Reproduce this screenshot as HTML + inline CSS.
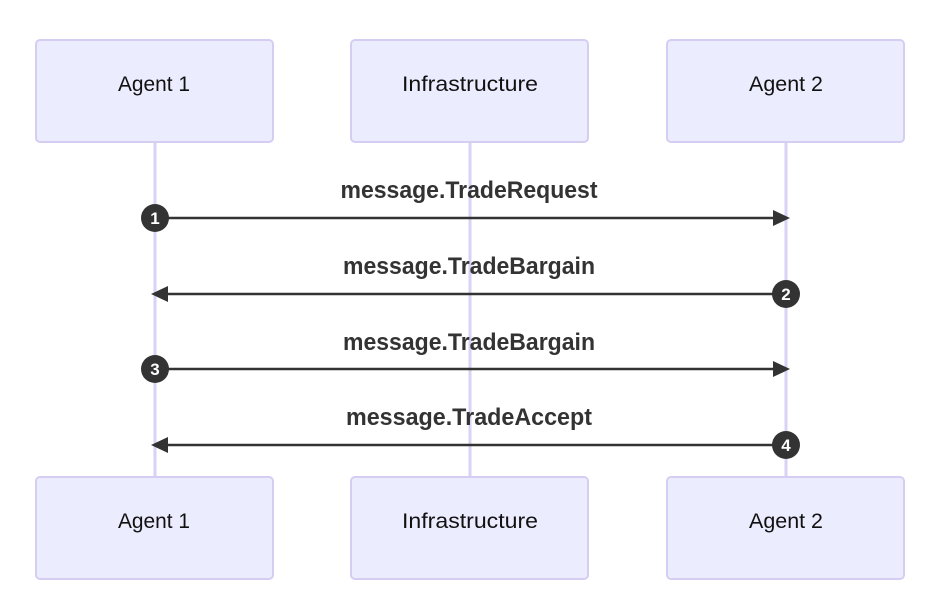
<!DOCTYPE html>
<html><head><meta charset="utf-8"><style>
html,body{margin:0;padding:0;background:#fff;}
svg{display:block;}
text{font-family:"Liberation Sans",sans-serif;}
</style></head><body>
<svg width="939" height="614" viewBox="0 0 939 614" xmlns="http://www.w3.org/2000/svg">
<g stroke="#d9d2f5" stroke-width="3">
<line x1="155" y1="142" x2="155" y2="477"/>
<line x1="470" y1="142" x2="470" y2="477"/>
<line x1="786" y1="142" x2="786" y2="477"/>
</g>
<g fill="#ececff" stroke="#d6cdf3" stroke-width="2">
<rect x="36" y="40" width="237" height="102" rx="4"/>
<rect x="351" y="40" width="237" height="102" rx="4"/>
<rect x="667" y="40" width="237" height="102" rx="4"/>
<rect x="36" y="477" width="237" height="102" rx="4"/>
<rect x="351" y="477" width="237" height="102" rx="4"/>
<rect x="667" y="477" width="237" height="102" rx="4"/>
</g>
<g font-size="21" fill="#111" text-anchor="middle">
<text x="154" y="91" textLength="72" lengthAdjust="spacingAndGlyphs">Agent 1</text>
<text x="470" y="91" textLength="136" lengthAdjust="spacingAndGlyphs">Infrastructure</text>
<text x="786" y="91" textLength="74" lengthAdjust="spacingAndGlyphs">Agent 2</text>
<text x="154" y="528" textLength="72" lengthAdjust="spacingAndGlyphs">Agent 1</text>
<text x="470" y="528" textLength="136" lengthAdjust="spacingAndGlyphs">Infrastructure</text>
<text x="786" y="528" textLength="74" lengthAdjust="spacingAndGlyphs">Agent 2</text>
</g>
<g font-size="24" font-weight="bold" fill="#333" text-anchor="middle">
<text x="469" y="198" textLength="257" lengthAdjust="spacingAndGlyphs">message.TradeRequest</text>
<text x="469" y="274" textLength="252" lengthAdjust="spacingAndGlyphs">message.TradeBargain</text>
<text x="469" y="350" textLength="252" lengthAdjust="spacingAndGlyphs">message.TradeBargain</text>
<text x="469" y="425" textLength="246" lengthAdjust="spacingAndGlyphs">message.TradeAccept</text>
</g>
<g stroke="#333" stroke-width="2.5">
<line x1="155" y1="218" x2="775" y2="218"/>
<line x1="167" y1="294" x2="786" y2="294"/>
<line x1="155" y1="369" x2="775" y2="369"/>
<line x1="167" y1="445" x2="786" y2="445"/>
</g>
<g fill="#333">
<polygon points="790,218 773,210 773,226"/>
<polygon points="151,294 168,286 168,302"/>
<polygon points="790,369 773,361 773,377"/>
<polygon points="151,445 168,437 168,453"/>
<circle cx="155" cy="218" r="14"/>
<circle cx="786" cy="294" r="14"/>
<circle cx="155" cy="369" r="14"/>
<circle cx="786" cy="445" r="14"/>
</g>
<g font-size="17" font-weight="bold" fill="#fff" text-anchor="middle">
<text x="155" y="224">1</text>
<text x="786" y="300">2</text>
<text x="155" y="375">3</text>
<text x="786" y="451">4</text>
</g>
</svg>
</body></html>
